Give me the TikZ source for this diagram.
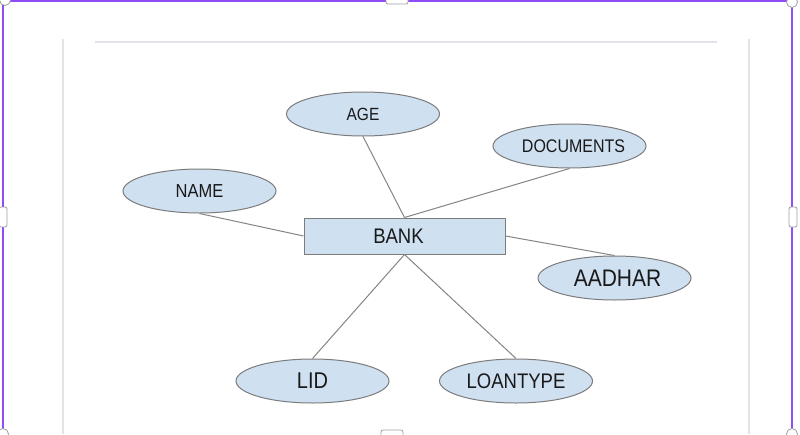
\documentclass[tikz,border=0pt]{standalone}
\usepackage{fontspec}
\setmainfont{Liberation Sans}
\usetikzlibrary{shapes.geometric}
\definecolor{attrfill}{HTML}{CFE0F1}
\definecolor{attrline}{HTML}{7C7C7C}
\definecolor{connline}{HTML}{858585}
\definecolor{frame}{HTML}{8F4CF7}
\definecolor{pageline}{HTML}{E1E4E9}
\definecolor{handleline}{HTML}{A0A0A0}
% #1 size, #2 horizontal shift, #3 text
\newcommand{\lbltxt}[3]{\makebox[0pt]{\hspace*{#2}\scalebox{1}[1.14]{\fontsize{#1}{#1}\selectfont #3}}}
\tikzset{
  attr/.style={ellipse, draw=attrline, fill=attrfill, line width=1pt,
    minimum width=153pt, minimum height=44pt, inner sep=0pt, text=black!90},
  entity/.style={rectangle, draw=attrline, fill=attrfill, line width=1pt,
    minimum width=201pt, minimum height=36pt, inner sep=0pt, text=black!90},
  conn/.style={draw=connline, line width=1pt},
  handle/.style={draw=handleline, fill=white, line width=0.8pt},
}
\begin{document}
\begin{tikzpicture}[x=1pt,y=-1pt]
\useasboundingbox (0,0) rectangle (800,434);
\fill[white] (0,0) rectangle (800,434);
% page outline
\draw[pageline, line width=1.5pt] (95,42) -- (717,42);
\draw[pageline, line width=1.2pt] (63,39) -- (63,434);
\draw[pageline, line width=1.2pt] (749,39) -- (749,434);
% selection frame
\draw[frame, line width=2pt] (3,434) -- (3,1) -- (792,1) -- (792,434);
% nodes
\node[entity] (bank) at (404.5,236) {\lbltxt{18.5}{-12pt}{BANK}};
\node[attr] (age) at (363,114) {\lbltxt{15.5}{0pt}{AGE}};
\node[attr] (docs) at (569.5,146) {\lbltxt{16}{8pt}{DOCUMENTS}};
\node[attr] (name) at (199.5,191) {\lbltxt{16.5}{0pt}{NAME}};
\node[attr] (aadhar) at (614.5,278) {\lbltxt{21}{6pt}{AADHAR}};
\node[attr] (lid) at (312.5,381) {\lbltxt{20}{0pt}{LID}};
\node[attr] (loan) at (516,381) {\lbltxt{18.5}{0pt}{LOANTYPE}};
% connectors
\draw[conn] (age.south) -- (bank.north);
\draw[conn] (docs.south) -- (bank.north);
\draw[conn] (name.south) -- (bank.west);
\draw[conn] (bank.east) -- (aadhar.north);
\draw[conn] (bank.south) -- (lid.north);
\draw[conn] (bank.south) -- (loan.north);
% handles
\node[handle, circle, minimum size=11pt, inner sep=0pt] (h1) at (5,0) {};
\node[handle, circle, minimum size=11pt, inner sep=0pt] (h2) at (792,2) {};
\node[handle, circle, minimum size=11pt, inner sep=0pt] (h3) at (3,434) {};
\node[handle, circle, minimum size=11pt, inner sep=0pt] (h4) at (792,434) {};
\node[handle, rectangle, rounded corners=2pt, minimum width=22pt, minimum height=8pt, inner sep=0pt] (h5) at (397,0) {};
\node[handle, rectangle, rounded corners=2pt, minimum width=22pt, minimum height=8pt, inner sep=0pt] (h6) at (392,434) {};
\node[handle, rectangle, rounded corners=2pt, minimum width=8pt, minimum height=20pt, inner sep=0pt] (h7) at (3,217) {};
\node[handle, rectangle, rounded corners=2pt, minimum width=8pt, minimum height=20pt, inner sep=0pt] (h8) at (793,217) {};
\end{tikzpicture}
\end{document}
